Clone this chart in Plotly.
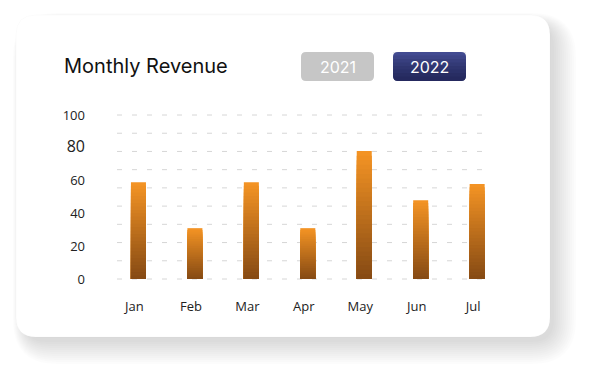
import plotly.graph_objects as go

# ---- data ----
months = ["Jan", "Feb", "Mar", "Apr", "May", "Jun", "Jul"]
revenue_2022 = [59, 31, 59, 31, 78, 48, 58]
ytick_vals = [0, 20, 40, 60, 80, 100]
ytick_text = ["0", "20", "40", "60", "<span style='font-size:16px'>80</span>", "100"]
title_text = "Monthly Revenue"
year_labels = ["2021", "2022"]

# ---- geometry helpers (pixel -> paper) ----
W, H = 595, 383
PL, PR, PT, PB = 117, 489, 115, 279


def px(x):
    return (x - PL) / (PR - PL)


def py(y):
    return (PB - y) / (PB - PT)


def rrect_path(x0, y0, x1, y1, r, rt=None):
    rt = r if rt is None else rt
    pts = [
        f"M {px(x0 + rt)} {py(y0)}",
        f"L {px(x1 - rt)} {py(y0)}",
        f"Q {px(x1)} {py(y0)} {px(x1)} {py(y0 + rt)}",
        f"L {px(x1)} {py(y1 - r)}",
        f"Q {px(x1)} {py(y1)} {px(x1 - r)} {py(y1)}",
        f"L {px(x0 + r)} {py(y1)}",
        f"Q {px(x0)} {py(y1)} {px(x0)} {py(y1 - r)}",
        f"L {px(x0)} {py(y0 + rt)}",
        f"Q {px(x0)} {py(y0)} {px(x0 + rt)} {py(y0)}",
        "Z",
    ]
    return " ".join(pts)


def lerp_color(c1, c2, t):
    a = [int(c1[i:i + 2], 16) for i in (1, 3, 5)]
    b = [int(c2[i:i + 2], 16) for i in (1, 3, 5)]
    return "rgb({},{},{})".format(*[round(a[i] + (b[i] - a[i]) * t) for i in range(3)])


fig = go.Figure()

# gradient bars via overlaid bars of decreasing height
N = 28
top_c, bot_c = "#F39324", "#874B14"
for k in range(N):
    frac = 1 - k / N
    fig.add_trace(go.Bar(
        x=months,
        y=[v * frac for v in revenue_2022],
        marker=dict(color=lerp_color(top_c, bot_c, k / (N - 1)), line=dict(width=0)),
        hoverinfo="skip" if k else "x+y",
        showlegend=False,
    ))

shapes = []
# shadow
for i in range(12):
    g = 2.0 * i
    shapes.append(dict(
        type="path", xref="paper", yref="paper", layer="below",
        path=rrect_path(24 - g * 0.5, 24 - g * 0.5, 554 + g, 342 + g, 22 + g),
        fillcolor="rgba(0,0,0,0.011)", line=dict(width=0),
    ))
# card
shapes.append(dict(
    type="path", xref="paper", yref="paper", layer="below",
    path=rrect_path(16, 15, 550, 337, 20),
    fillcolor="white", line=dict(color="rgba(0,0,0,0.015)", width=1),
))
# dashed grid lines
for k in range(10):
    shapes.append(dict(
        type="line", xref="paper", yref="paper", layer="below",
        x0=0, x1=1, y0=k / 9, y1=k / 9,
        line=dict(color="#d6d6d6", width=1, dash="5px,10px"),
    ))
# year buttons
shapes.append(dict(
    type="path", xref="paper", yref="paper", layer="below",
    path=rrect_path(301, 52, 374, 81, 5),
    fillcolor="#c6c6c6", line=dict(width=0),
))
shapes.append(dict(
    type="path", xref="paper", yref="paper", layer="below",
    path=rrect_path(393, 52, 466, 81, 5),
    fillcolor="#48529c", line=dict(width=0),
))
for k in range(8):
    shapes.append(dict(
        type="path", xref="paper", yref="paper", layer="below",
        path=rrect_path(393, 52 + k * 3.5, 466, 81, 5, rt=0),
        fillcolor="rgba(12,14,42,0.09)", line=dict(width=0),
    ))

annotations = [
    dict(text=title_text, x=px(62), y=py(66), xref="paper", yref="paper",
         xanchor="left", yanchor="middle", showarrow=False,
         font=dict(family="Inter", size=20, weight=400, color="#111111")),
    dict(text=year_labels[0], x=px(337.5), y=py(66.5), xref="paper", yref="paper",
         xanchor="center", yanchor="middle", showarrow=False,
         font=dict(family="Inter", size=16, color="white")),
    dict(text=year_labels[1], x=px(429.5), y=py(66.5), xref="paper", yref="paper",
         xanchor="center", yanchor="middle", showarrow=False,
         font=dict(family="Inter", size=16, color="white")),
]

fig.update_layout(
    width=W, height=H, autosize=False,
    margin=dict(l=PL, r=W - PR, t=PT, b=H - PB, pad=0),
    paper_bgcolor="white", plot_bgcolor="rgba(0,0,0,0)",
    barmode="overlay", bargap=0.734,
    shapes=shapes, annotations=annotations,
    xaxis=dict(range=[-0.38, 6.21], showgrid=False, zeroline=False, showline=False,
               ticks="", tickfont=dict(family="Open Sans", size=13, color="#222222"),
               ticklabelstandoff=18, ticklabelshift=-4, fixedrange=True),
    yaxis=dict(range=[0, 100], tickvals=ytick_vals, ticktext=ytick_text,
               showgrid=False, zeroline=False, showline=False, ticks="",
               tickfont=dict(family="Open Sans", size=13, color="#222222"),
               ticklabelstandoff=31, fixedrange=True),
)

fig.write_html(
    "out.html",
    config={"displayModeBar": False},
    post_script="document.body.style.margin='0';document.body.style.overflow='hidden';",
)
